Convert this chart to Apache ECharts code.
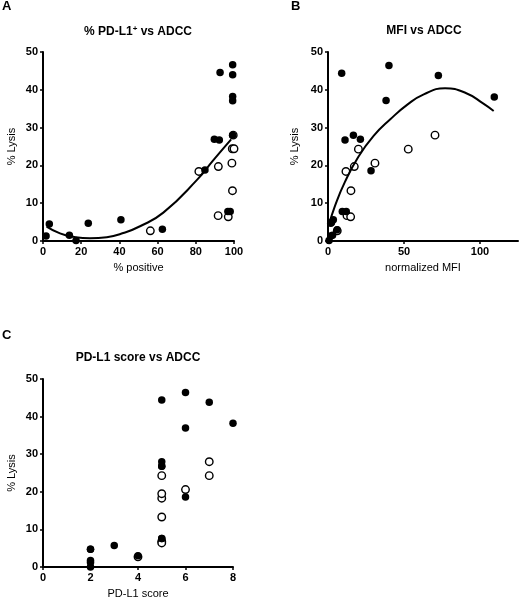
<!DOCTYPE html>
<html><head><meta charset="utf-8">
<script src="https://cdn.jsdelivr.net/npm/echarts@6/dist/echarts.min.js"></script>
<style>html,body{margin:0;padding:0;background:#fff}#c{width:519px;height:600px}</style>
</head><body><div id="c"></div>
<script>
// Panel A: % PD-L1+ vs ADCC
const aFilledX = [1.6, 3.3, 13.8, 17.3, 23.7, 40.8, 62.5, 84.8, 89.7, 92.3, 92.7, 96.8, 98.0, 99.3, 99.3, 99.3, 99.3, 99.3];
const aFilledY = [1.3, 4.5, 1.5, 0.1, 4.7, 5.6, 3.1, 18.8, 26.9, 26.7, 44.6, 7.8, 7.8, 46.6, 44.0, 38.2, 37.1, 28.0];
const aOpenX = [56.2, 81.6, 91.8, 91.7, 97.0, 98.9, 99.2, 99.1, 100.0, 99.6];
const aOpenY = [2.7, 18.4, 19.7, 6.7, 6.4, 20.6, 13.3, 24.4, 24.4, 28.0];
const aCurveX = [1.9, 8.9, 15.9, 24.6, 33.4, 42, 50.8, 63, 80.5, 89.2, 98.5];
const aCurveY = [3.8, 2.0, 1.1, 0.7, 1.0, 2.1, 3.9, 7.5, 16.1, 21.4, 26.9];
// Panel B: MFI vs ADCC
const bFilledX = [1.8, 1.8, 3.0, 0.7, 2.3, 3.5, 6.0, 28.3, 21.3, 11.2, 9.0, 9.4, 12.0, 40.1, 72.6, 109.4, 38.2, 16.7];
const bFilledY = [1.3, 4.7, 1.5, 0.1, 4.9, 5.6, 3.0, 18.6, 26.9, 26.7, 44.4, 7.8, 7.8, 46.4, 43.8, 38.1, 37.2, 28.0];
const bOpenX = [6.1, 11.8, 12.5, 17.3, 14.9, 30.9, 15.1, 20.0, 52.8, 70.4];
const bOpenY = [2.7, 18.4, 6.7, 19.7, 6.4, 20.6, 13.3, 24.3, 24.3, 28.0];
const bCurveX = [0.8, 4.6, 11, 20, 30, 41, 52, 63, 77, 91, 102, 109];
const bCurveY = [4.5, 9.3, 15.5, 22.3, 27.8, 32.2, 36.0, 38.8, 40.4, 39.1, 36.4, 34.4];
// Panel C: PD-L1 score vs ADCC
const cFilledX = [2, 2, 2, 2, 2, 3, 4, 6, 5, 5, 5, 5, 5, 6, 7, 8, 6, 5];
const cFilledY = [1.2, 4.7, 1.7, 0.0, 4.7, 5.7, 3.0, 18.6, 26.8, 26.8, 44.4, 7.6, 7.6, 46.4, 43.8, 38.2, 37.0, 28.0];
const cOpenX = [4, 5, 5, 5, 5, 6, 5, 5, 7, 7];
const cOpenY = [2.7, 18.3, 6.8, 19.5, 6.4, 20.6, 13.3, 24.3, 24.3, 28.0];

const titles = ['% PD-L1{sup|+} vs ADCC', 'MFI vs ADCC', 'PD-L1 score vs ADCC'];
const letters = ['A', 'B', 'C'];
const xNames = ['% positive', 'normalized MFI', 'PD-L1 score'];
const yName = '% Lysis';
const yTicks = [0, 10, 20, 30, 40, 50];
const xTicksA = [0, 20, 40, 60, 80, 100];
const xTicksB = [0, 50, 100];
const xTicksC = [0, 2, 4, 6, 8];

const FONT = '"Liberation Sans", Arial, sans-serif';
const zip = (xs, ys) => xs.map((x, i) => [x, ys[i]]);

const grids = [
  {left: 43, top: 52, width: 191, height: 189},
  {left: 328, top: 52, width: 190, height: 189},
  {left: 43, top: 379, width: 190, height: 190}
];
const xRanges = [[0, 100, xTicksA], [0, 125, xTicksB], [0, 8, xTicksC]];

function axisCommon() {
  return {
    axisLine: {show: true, onZero: false, lineStyle: {color: '#000', width: 2}},
    axisTick: {show: true, inside: false, length: 3, lineStyle: {color: '#000', width: 1.5}},
    splitLine: {show: false},
    axisLabel: {color: '#000', fontFamily: FONT, fontSize: 11, fontWeight: 'bold', margin: 5},
    nameTextStyle: {color: '#000', fontFamily: FONT, fontSize: 11}
  };
}

const xAxis = xRanges.map((r, i) => {
  const c = axisCommon();
  c.axisLabel.customValues = r[2];
  c.axisTick.customValues = r[2];
  return Object.assign(c, {
    type: 'value', gridIndex: i, min: r[0], max: r[1],
    name: xNames[i], nameLocation: 'middle', nameGap: 21
  });
});
const yAxis = [0, 1, 2].map(i => {
  const c = axisCommon();
  c.axisLabel.customValues = yTicks;
  c.axisTick.customValues = yTicks;
  return Object.assign(c, {
    type: 'value', gridIndex: i, min: 0, max: 50,
    name: yName, nameLocation: 'middle', nameGap: i === 1 ? 28 : 26, nameRotate: 90
  });
});

function openS(i, d) {
  return {type: 'scatter', xAxisIndex: i, yAxisIndex: i, data: d, symbol: 'circle', symbolSize: 7.5, clip: false,
    itemStyle: {color: '#fff', borderColor: '#000', borderWidth: 1.4, opacity: 1}, z: 3, silent: true};
}
function filledS(i, d) {
  return {type: 'scatter', xAxisIndex: i, yAxisIndex: i, data: d, symbol: 'circle', symbolSize: 7.5, clip: false,
    itemStyle: {color: '#000', borderWidth: 0, opacity: 1}, z: 4, silent: true};
}
function curveS(i, d) {
  return {type: 'line', xAxisIndex: i, yAxisIndex: i, data: d, smooth: 0.5, showSymbol: false, symbol: 'none',
    lineStyle: {color: '#000', width: 2}, z: 5, silent: true};
}

const series = [
  openS(0, zip(aOpenX, aOpenY)), filledS(0, zip(aFilledX, aFilledY)), curveS(0, zip(aCurveX, aCurveY)),
  openS(1, zip(bOpenX, bOpenY)), filledS(1, zip(bFilledX, bFilledY)), curveS(1, zip(bCurveX, bCurveY)),
  openS(2, zip(cOpenX, cOpenY)), filledS(2, zip(cFilledX, cFilledY))
];

const titlePos = [[138, 32], [424, 31], [138, 358]];
const letterPos = [[2, 0], [291, 0], [2, 329]];
const graphic = [];
titles.forEach((t, i) => {
  graphic.push({type: 'text', x: titlePos[i][0], y: titlePos[i][1], silent: true,
    style: {text: t, fill: '#000', font: 'bold 12px ' + FONT, align: 'center', verticalAlign: 'middle',
      rich: {sup: {fontSize: 8, fontWeight: 'bold', fontFamily: FONT, fill: '#000', padding: [0, 0, 7, 0]}}}});
});
letters.forEach((t, i) => {
  graphic.push({type: 'text', x: letterPos[i][0], y: letterPos[i][1], silent: true,
    style: {text: t, fill: '#000', font: 'bold 13px ' + FONT}});
});

const chart = echarts.init(document.getElementById('c'), null, {renderer: 'canvas'});
chart.setOption({
  animation: false,
  backgroundColor: '#fff',
  grid: grids,
  xAxis: xAxis,
  yAxis: yAxis,
  series: series,
  graphic: graphic
});
</script></body></html>
